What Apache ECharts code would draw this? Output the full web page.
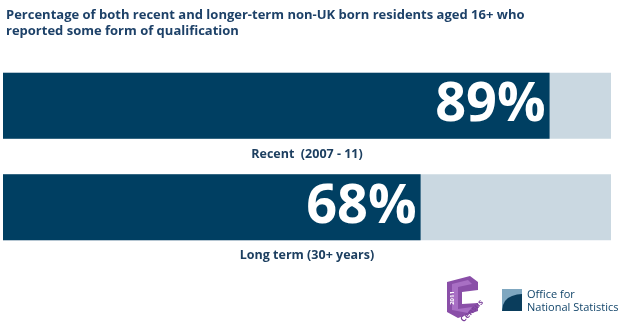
<!DOCTYPE html>
<html>
<head>
<meta charset="utf-8">
<script src="https://cdn.jsdelivr.net/npm/echarts@6/dist/echarts.min.js"></script>
<style>
html,body{margin:0;padding:0;background:#fff;}
#chart{width:622px;height:325px;}
</style>
</head>
<body>
<div id="chart"></div>
<script>
const titleText = 'Percentage of both recent and longer-term non-UK born residents aged 16+ who\nreported some form of qualification';
const categories = ['Recent  (2007 - 11)', 'Long term (30+ years)'];
const qualifiedValues = [89, 68];
const trackValues = [99, 99];
const axisMax = 99;

const chart = echarts.init(document.getElementById('chart'));
chart.setOption({
  backgroundColor: '#ffffff',
  animation: false,
  title: {
    text: titleText,
    left: 1,
    top: 2,
    textStyle: {
      fontFamily: 'Open Sans',
      fontWeight: 'bold',
      fontSize: 13,
      lineHeight: 16,
      color: '#1d4168'
    }
  },
  grid: { left: 3, right: 11, top: 55, bottom: 67, containLabel: false },
  xAxis: { type: 'value', min: 0, max: axisMax, show: false },
  yAxis: { type: 'category', data: categories, inverse: true, show: false },
  series: [
    {
      name: 'Track',
      type: 'bar',
      data: trackValues,
      barWidth: 66,
      itemStyle: { color: '#cad8e1' },
      label: {
        show: true,
        position: 'bottom',
        distance: 9,
        formatter: p => categories[p.dataIndex],
        fontFamily: 'Open Sans',
        fontWeight: 'bold',
        fontSize: 12.5,
        color: '#1d3f60'
      },
      silent: true
    },
    {
      name: 'Qualified',
      type: 'bar',
      data: qualifiedValues,
      barWidth: 66,
      barGap: '-100%',
      itemStyle: { color: '#003f62' },
      label: {
        show: true,
        position: 'insideRight',
        distance: 4,
        formatter: p => p.value + '%',
        fontFamily: 'Open Sans',
        fontWeight: 'bold',
        fontSize: 54,
        color: '#ffffff'
      }
    }
  ],
  graphic: [
    {
      type: 'polygon',
      shape: { points: [[447,282],[470,276],[478,282],[478,290],[462,292],[462,304],[478,303],[478,311],[458,318],[447,312]] },
      style: { fill: '#8a4fa8' }
    },
    {
      type: 'polygon',
      shape: { points: [[452,284],[468,280],[472,284],[458,287],[458,309],[472,307],[468,313],[452,310]] },
      style: { fill: '#a86fc4' }
    },
    {
      type: 'text',
      x: 452, y: 298, rotation: Math.PI / 2,
      style: { text: '2011', fontSize: 6, fontWeight: 'bold', fill: '#ffffff', fontFamily: 'Open Sans', align: 'center', verticalAlign: 'middle' }
    },
    {
      type: 'text',
      x: 472, y: 311, rotation: Math.PI / 4,
      style: { text: 'Census', fontSize: 8, fontWeight: 'bold', fill: '#7a3f9a', fontFamily: 'Open Sans', align: 'center', verticalAlign: 'middle' }
    },
    {
      type: 'rect',
      shape: { x: 502, y: 289, width: 20, height: 22 },
      style: { fill: '#7fa7c0' }
    },
    {
      type: 'polygon',
      shape: { points: [[502,311],[503,305],[505,301],[508,298],[512,296],[517,294.5],[522,294],[522,311]] },
      style: { fill: '#0a3d5c' }
    },
    {
      type: 'text',
      x: 527, y: 288,
      style: { text: 'Office for\nNational Statistics', fontSize: 11, lineHeight: 13, fill: '#12456a', fontFamily: 'Open Sans' }
    }
  ]
});
</script>
</body>
</html>
